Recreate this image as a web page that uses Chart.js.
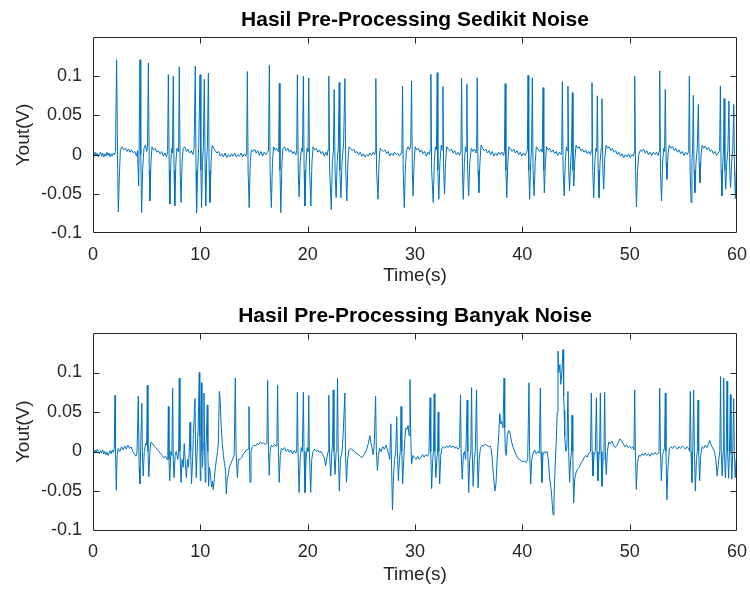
<!DOCTYPE html>
<html>
<head>
<meta charset="utf-8">
<script src="https://cdn.jsdelivr.net/npm/chart.js@4.4.1/dist/chart.umd.min.js"></script>
<style>
  html, body { margin: 0; padding: 0; background: #fff; }
  #wrap { position: relative; width: 750px; height: 597px; }
  canvas { position: absolute; left: 0; }
</style>
</head>
<body>
<div id="wrap">
  <canvas id="topChart" width="750" height="298" style="top:0"></canvas>
  <canvas id="bottomChart" width="750" height="299" style="top:298px"></canvas>
</div>
<script>
// titles and axis text
const titles = ['Hasil Pre-Processing Sedikit Noise', 'Hasil Pre-Processing Banyak Noise'];
const xLabel = 'Time(s)';
const yLabel = 'Yout(V)';
const xTicks = [0, 10, 20, 30, 40, 50, 60];
const yTicks = [-0.1, -0.05, 0, 0.05, 0.1];

// [time (s), Yout (V)] (little noise)
const sedikitNoise = [
  [0,0.002],[0.1,-0.002],[0.2,0.003],[0.3,-0.001],[0.4,0.002],[0.5,-0.003],[0.6,0.001],[0.7,0.003],[0.8,-0.002],[0.9,0.002],
  [1.0,-0.003],[1.1,0.001],[1.2,-0.002],[1.3,0.003],[1.4,-0.001],[1.5,0.002],[1.6,-0.003],[1.7,0.001],[1.8,-0.002],[1.9,0.002],[2.0,0.000],[2.1,0.004],
  [2.2,0.121],[2.3,-0.02],[2.36,-0.073],[2.45,-0.03],[2.55,0.006],[2.7,0.01],[2.85,0.006],[3.0,0.008],[3.15,0.004],[3.3,0.007],[3.45,0.003],[3.6,0.006],[3.75,0.002],[3.9,0.004],[4.05,-0.002],[4.15,0.005],
  [4.25,-0.04],[4.3,0.01],[4.38,0.121],[4.45,0.0],[4.53,-0.074],[4.62,-0.02],[4.75,0.008],[4.88,0.012],[5.0,0.004],[5.08,0.01],
  [5.16,0.117],[5.24,-0.02],[5.3,-0.059],[5.4,-0.01],[5.5,0.01],[5.65,0.006],[5.8,0.008],[5.95,0.003],[6.1,0.005],[6.25,0.001],[6.4,0.004],[6.55,-0.002],[6.7,0.002],[6.85,-0.003],[6.95,0.004],
  [7.02,0.102],[7.1,-0.02],[7.16,-0.063],[7.25,-0.01],[7.33,0.008],[7.4,0.002],
  [7.48,0.1],[7.55,-0.02],[7.62,-0.0655],[7.72,-0.01],[7.82,0.008],[7.92,0.004],[7.98,0.012],
  [8.04,0.112],[8.12,-0.02],[8.2,-0.061],[8.3,-0.01],[8.4,0.008],[8.55,0.01],[8.7,0.004],[8.85,0.007],[9.0,0.002],[9.15,0.005],[9.3,0.0],[9.42,0.008],
  [9.53,0.113],[9.6,-0.02],[9.65,-0.074],[9.75,-0.02],[9.85,0.01],
  [9.97,0.102],[10.05,-0.02],[10.12,-0.0676],[10.2,-0.01],[10.28,0.01],
  [10.37,0.096],[10.45,-0.02],[10.5,-0.0655],[10.58,-0.01],[10.66,0.01],
  [10.75,0.104],[10.82,-0.02],[10.9,-0.061],[11.0,-0.01],[11.1,0.012],[11.25,0.008],[11.4,0.005],[11.55,0.002],[11.7,0.004],[11.85,-0.002],[12.0,0.001],[12.15,-0.003],[12.3,0.002],[12.45,-0.004],[12.6,0.000],[12.75,-0.003],[12.9,0.001],[13.05,-0.002],[13.2,0.002],[13.35,-0.003],[13.5,0.000],[13.65,-0.002],[13.8,0.002],[13.95,-0.003],[14.1,0.001],[14.25,-0.002],[14.32,0.003],
  [14.38,0.106],[14.45,-0.02],[14.55,-0.0676],[14.65,-0.01],[14.75,0.006],[14.9,0.004],[15.05,0.007],[15.2,0.002],[15.35,0.005],[15.5,-0.001],[15.65,0.004],[15.8,-0.002],[15.95,0.003],[16.1,0.0],[16.25,0.003],[16.35,0.006],
  [16.43,0.114],[16.5,-0.02],[16.62,-0.0676],[16.72,-0.01],[16.82,0.01],[16.95,0.006],[17.1,0.008],[17.25,0.004],[17.3,0.01],
  [17.36,0.091],[17.42,-0.02],[17.5,-0.074],[17.6,-0.01],[17.7,0.008],[17.85,0.01],[18.0,0.005],[18.15,0.008],[18.3,0.003],[18.45,0.006],[18.6,0.001],[18.75,0.004],[18.9,0.0],[18.98,0.005],
  [19.04,0.102],[19.12,-0.02],[19.2,-0.054],[19.3,-0.01],[19.42,0.008],[19.52,0.004],
  [19.6,0.1],[19.67,-0.02],[19.75,-0.0655],[19.85,-0.01],[19.95,0.008],[20.03,0.004],
  [20.1,0.098],[20.18,-0.02],[20.3,-0.0655],[20.4,-0.01],[20.5,0.01],[20.65,0.006],[20.8,0.008],[20.95,0.003],[21.1,0.006],[21.25,0.001],[21.4,0.004],[21.55,-0.002],[21.7,0.003],[21.82,-0.001],[21.9,0.006],
  [21.97,0.1],[22.05,-0.02],[22.2,-0.07],[22.3,-0.01],[22.4,0.006],
  [22.47,0.083],[22.55,-0.02],[22.65,-0.055],[22.75,-0.01],[22.85,0.008],
  [22.94,0.092],[23.0,-0.02],[23.1,-0.055],[23.2,-0.01],[23.35,0.015],
  [23.47,0.097],[23.55,-0.02],[23.65,-0.059],[23.75,-0.01],[23.85,0.01],[24.0,0.008],[24.15,0.005],[24.3,0.007],[24.45,0.002],[24.6,0.004],[24.75,0.0],[24.9,0.003],[25.05,-0.002],[25.2,0.001],[25.35,-0.003],[25.5,0.0],[25.65,-0.002],[25.8,0.002],[25.95,-0.001],[26.1,0.003],[26.25,0.0],[26.3,0.005],
  [26.35,0.097],[26.42,-0.02],[26.55,-0.057],[26.65,-0.01],[26.75,0.008],[26.9,0.006],[27.05,0.004],[27.2,0.006],[27.35,0.001],[27.5,0.004],[27.65,-0.002],[27.8,0.002],[27.95,-0.001],[28.1,0.003],[28.25,0.0],[28.4,0.002],[28.55,-0.002],[28.7,0.002],[28.78,0.006],
  [28.84,0.0875],[28.9,-0.02],[29.0,-0.0676],[29.1,-0.02],[29.2,0.005],[29.35,0.01],[29.5,0.006],[29.6,0.012],
  [29.68,0.094],[29.75,-0.02],[29.82,-0.0527],[29.92,-0.01],[30.02,0.01],[30.15,0.006],[30.3,0.008],[30.45,0.003],[30.6,0.006],[30.75,0.001],[30.9,0.004],[31.05,-0.002],[31.2,0.003],[31.35,0.0],[31.42,0.006],
  [31.48,0.1024],[31.55,-0.02],[31.7,-0.061],[31.8,-0.01],[31.9,0.01],[32.0,0.006],
  [32.07,0.1045],[32.13,-0.02],[32.22,-0.057],[32.32,-0.01],[32.45,0.012],[32.52,0.006],
  [32.6,0.0867],[32.67,-0.02],[32.75,-0.0506],[32.85,-0.01],[32.95,0.01],[33.1,0.007],[33.25,0.005],[33.4,0.007],[33.55,0.002],[33.7,0.005],[33.85,0.0],[34.0,0.003],[34.15,-0.001],[34.28,0.005],
  [34.34,0.097],[34.42,-0.02],[34.5,-0.057],[34.6,-0.01],[34.7,0.01],[34.77,0.004],
  [34.83,0.0897],[34.9,-0.02],[35.0,-0.0527],[35.1,-0.01],[35.25,0.008],[35.4,0.004],[35.55,0.007],[35.68,0.002],[35.74,0.008],
  [35.8,0.098],[35.87,-0.02],[35.95,-0.0485],[36.05,-0.01],[36.15,0.012],[36.3,0.008],[36.45,0.005],[36.6,0.007],[36.75,0.002],[36.9,0.005],[37.05,0.0],[37.2,0.004],[37.35,-0.002],[37.5,0.002],[37.65,-0.001],[37.8,0.003],[37.95,0.0],[38.1,0.003],[38.25,-0.001],[38.33,0.004],
  [38.4,0.0905],[38.47,-0.02],[38.55,-0.055],[38.65,-0.01],[38.75,0.01],[38.9,0.007],[39.05,0.004],[39.2,0.007],[39.35,0.002],[39.5,0.005],[39.65,0.0],[39.8,0.003],[39.95,-0.002],[40.1,0.002],[40.25,-0.001],[40.4,0.003],[40.47,0.006],
  [40.53,0.101],[40.6,-0.02],[40.68,-0.057],[40.78,-0.01],[40.86,0.008],
  [40.93,0.098],[41.0,-0.02],[41.1,-0.0527],[41.2,-0.01],[41.3,0.01],[41.45,0.007],[41.6,0.004],[41.75,0.007],[41.86,0.003],
  [41.93,0.0854],[42.0,-0.02],[42.05,-0.049],[42.15,-0.01],[42.25,0.01],[42.4,0.006],[42.55,0.008],[42.7,0.003],[42.85,0.006],[43.0,0.001],[43.15,0.004],[43.3,-0.001],[43.45,0.003],[43.6,0.0],[43.67,0.005],
  [43.73,0.093],[43.8,-0.02],[43.9,-0.0527],[44.0,-0.01],[44.1,0.01],[44.18,0.005],
  [44.25,0.0875],[44.32,-0.02],[44.4,-0.046],[44.5,-0.01],[44.58,0.008],
  [44.66,0.079],[44.72,-0.02],[44.8,-0.04],[44.9,-0.005],[45.0,0.012],[45.15,0.008],[45.3,0.01],[45.45,0.005],[45.6,0.007],[45.75,0.003],[45.9,0.006],[46.05,0.001],[46.2,0.004],[46.35,0.0],[46.43,0.005],
  [46.49,0.092],[46.56,-0.02],[46.65,-0.055],[46.75,-0.01],[46.85,0.008],[46.93,0.004],
  [46.99,0.075],[47.06,-0.02],[47.14,-0.055],[47.24,-0.01],[47.35,0.008],
  [47.42,0.0714],[47.5,-0.02],[47.58,-0.044],[47.68,-0.005],[47.8,0.012],[47.95,0.008],[48.1,0.01],[48.25,0.005],[48.4,0.008],[48.55,0.003],[48.7,0.005],[48.85,0.0],[49.0,0.003],[49.15,-0.002],[49.3,0.001],[49.45,-0.004],[49.6,0.0],[49.75,-0.003],[49.9,0.001],[50.05,-0.004],[50.2,0.0],[50.35,-0.002],[50.42,0.003],
  [50.47,0.1],[50.55,-0.02],[50.63,-0.0667],[50.73,-0.02],[50.85,0.0],[51.0,0.006],[51.15,0.004],[51.3,0.007],[51.45,0.002],[51.6,0.005],[51.75,0.0],[51.9,0.003],[52.05,-0.001],[52.2,0.003],[52.35,0.0],[52.5,0.003],[52.65,-0.001],[52.74,0.004],
  [52.8,0.107],[52.87,-0.02],[52.97,-0.059],[53.07,-0.01],[53.17,0.008],[53.25,0.004],
  [53.32,0.083],[53.4,-0.01],[53.47,-0.0315],[53.57,0.0],[53.7,0.012],[53.85,0.008],[54.0,0.01],[54.15,0.005],[54.3,0.008],[54.45,0.003],[54.6,0.006],[54.75,0.001],[54.9,0.004],[55.05,-0.001],[55.2,0.003],[55.35,0.0],[55.5,0.004],
  [55.56,0.1],[55.63,-0.02],[55.72,-0.061],[55.8,-0.01],[55.87,0.008],
  [55.93,0.0757],[56.0,-0.02],[56.08,-0.0485],[56.18,-0.01],[56.3,0.008],
  [56.4,0.064],[56.47,-0.01],[56.55,-0.0357],[56.65,0.0],[56.75,0.012],[56.9,0.008],[57.05,0.011],[57.2,0.006],[57.35,0.009],[57.5,0.004],[57.65,0.006],[57.8,0.001],[57.95,0.004],[58.1,-0.001],[58.25,0.002],[58.38,0.005],
  [58.45,0.0875],[58.52,-0.02],[58.6,-0.0527],[58.68,-0.01],[58.74,0.006],
  [58.8,0.0714],[58.87,-0.02],[58.95,-0.044],[59.05,-0.01],[59.15,0.006],
  [59.25,0.0684],[59.32,-0.02],[59.4,-0.042],[59.5,-0.01],[59.6,0.006],
  [59.7,0.064],[59.77,-0.02],[59.85,-0.056],[59.93,-0.02],[60,-0.005]
];

// [time (s), Yout (V)] (much noise)
const banyakNoise = [
  [0,0.001],[0.1,-0.002],[0.2,0.002],[0.3,-0.001],[0.4,0.003],[0.5,0.0],[0.6,-0.003],[0.7,0.001],[0.8,-0.002],[0.9,0.002],
  [1.0,-0.003],[1.1,0.0],[1.2,-0.004],[1.3,-0.001],[1.4,-0.005],[1.5,-0.002],[1.6,0.001],[1.7,-0.003],[1.8,0.002],[1.9,-0.001],[1.98,0.004],
  [2.05,0.071],[2.1,0.0],[2.17,-0.049],[2.25,-0.005],[2.35,0.004],[2.5,0.0],[2.65,0.006],[2.8,0.002],[2.95,0.007],[3.1,0.003],[3.25,0.008],[3.4,0.004],[3.55,0.006],[3.7,0.0],[3.85,-0.003],[4.0,-0.006],[4.1,-0.002],
  [4.22,0.07],[4.3,-0.02],[4.37,-0.041],[4.45,0.01],[4.55,0.061],[4.6,0.0],[4.68,-0.031],[4.78,0.0],[4.9,0.01],[5.0,0.008],
  [5.06,0.084],[5.12,0.0],[5.2,-0.032],[5.3,0.0],[5.4,0.012],[5.55,0.01],[5.7,0.007],[5.85,0.005],[6.0,0.002],[6.15,0.0],[6.3,-0.003],[6.45,-0.005],[6.6,-0.008],[6.75,-0.006],[6.9,-0.01],[6.97,-0.005],
  [7.02,0.057],[7.08,-0.01],[7.15,-0.037],[7.25,0.0],[7.35,-0.005],
  [7.42,0.08],[7.48,-0.01],[7.55,-0.033],[7.65,-0.005],[7.75,0.0],[7.9,-0.01],[7.98,0.0],
  [8.04,0.093],[8.1,0.0],[8.2,-0.039],[8.3,-0.01],[8.4,-0.02],[8.5,0.01],[8.6,-0.015],[8.7,-0.033],[8.8,-0.01],[8.9,-0.02],[8.97,0.0],
  [9.04,0.037],[9.1,0.0],[9.18,-0.041],[9.28,-0.01],[9.35,0.02],
  [9.5,0.067],[9.56,0.0],[9.62,-0.033],[9.7,0.0],[9.8,0.03],
  [9.9,0.1],[9.95,0.02],[10.0,-0.037],[10.05,0.01],[10.1,0.087],[10.15,0.0],[10.2,-0.02],[10.28,0.01],
  [10.34,0.074],[10.4,0.0],[10.46,-0.039],[10.52,0.0],
  [10.65,0.059],[10.7,0.0],[10.77,-0.044],[10.85,-0.02],[10.95,-0.03],[11.05,-0.045],[11.15,-0.038],[11.2,-0.048],[11.3,-0.035],[11.4,-0.02],[11.5,-0.01],[11.6,0.0],[11.68,0.01],
  [11.77,0.076],[11.85,0.065],[11.95,0.03],[12.05,0.01],[12.15,-0.005],[12.25,-0.015],[12.35,-0.025],[12.42,-0.054],[12.5,-0.035],[12.6,-0.03],[12.7,-0.02],[12.85,-0.015],[13.0,-0.01],[13.15,-0.005],
  [13.26,0.093],[13.33,0.0],[13.45,-0.033],[13.55,-0.01],[13.7,-0.01],[13.85,-0.008],[14.0,-0.003],[14.15,-0.001],[14.3,0.002],[14.45,0.003],
  [14.53,0.057],[14.58,-0.01],[14.63,-0.039],[14.72,0.0],[14.85,0.006],[15.0,0.008],[15.15,0.007],[15.3,0.01],[15.45,0.009],[15.6,0.012],[15.75,0.01],[15.9,0.011],[16.05,0.009],[16.2,0.01],
  [16.27,0.09],[16.35,0.0],[16.42,-0.03],[16.5,0.0],[16.6,0.008],[16.75,0.006],[16.9,0.009],[17.05,0.007],[17.13,0.01],
  [17.2,0.084],[17.27,0.0],[17.35,-0.039],[17.45,-0.005],[17.55,0.004],[17.7,0.002],[17.85,0.005],[18.0,0.0],[18.15,0.003],[18.3,-0.001],[18.45,0.002],[18.6,-0.003],[18.75,0.001],[18.9,-0.002],[18.98,0.002],
  [19.04,0.075],[19.1,0.0],[19.2,-0.052],[19.3,-0.01],[19.4,0.005],[19.5,0.0],
  [19.6,0.075],[19.66,0.0],[19.75,-0.052],[19.85,-0.01],[19.95,0.005],[20.03,0.0],
  [20.1,0.071],[20.16,0.0],[20.28,-0.052],[20.38,-0.01],[20.5,0.0],[20.65,0.003],[20.8,0.0],[20.95,0.002],[21.1,-0.001],[21.25,0.0],[21.4,-0.004],[21.55,-0.008],[21.67,-0.018],[21.8,-0.008],[21.9,0.0],
  [21.97,0.071],[22.03,0.0],[22.15,-0.031],[22.25,0.0],[22.32,0.01],
  [22.38,0.078],[22.45,0.0],[22.55,-0.029],[22.65,0.0],[22.72,0.02],
  [22.78,0.093],[22.85,0.0],[22.95,-0.05],[23.05,-0.01],[23.2,0.0],[23.3,0.02],
  [23.47,0.074],[23.52,0.0],[23.62,-0.039],[23.72,-0.01],[23.85,0.002],[24.0,0.004],[24.15,0.002],[24.3,0.001],[24.45,-0.001],[24.6,-0.003],[24.75,-0.004],[24.9,-0.006],[25.05,-0.008],[25.2,-0.005],[25.35,-0.002],[25.5,0.003],[25.65,0.01],[25.8,0.02],[25.9,0.01],[26.0,0.005],[26.1,-0.004],[26.2,0.008],
  [26.33,0.07],[26.4,0.0],[26.5,-0.024],[26.6,-0.005],[26.7,0.004],[26.85,0.0],[27.0,0.006],[27.15,0.003],[27.3,0.008],[27.45,0.001],[27.55,-0.004],[27.65,-0.01],
  [27.75,0.035],[27.82,-0.02],[27.9,-0.074],[28.0,-0.03],[28.1,-0.01],[28.2,0.0],
  [28.3,0.044],[28.36,0.0],[28.45,-0.037],[28.55,-0.01],[28.63,0.0],
  [28.7,0.057],[28.77,0.0],[28.85,-0.041],[28.95,-0.01],[29.05,0.015],[29.15,0.03],[29.25,0.028],[29.35,0.033],[29.45,0.02],
  [29.53,0.091],[29.6,0.02],[29.68,-0.016],[29.8,-0.005],[29.95,-0.008],[30.1,-0.01],[30.25,-0.006],[30.4,-0.01],[30.55,-0.008],[30.7,-0.004],[30.85,-0.007],[31.0,-0.004],[31.15,-0.006],[31.3,-0.002],
  [31.41,0.068],[31.47,0.0],[31.55,-0.047],[31.65,-0.01],[31.72,0.0],
  [31.79,0.073],[31.85,0.0],[31.95,-0.033],[32.05,-0.005],[32.1,0.0],
  [32.16,0.05],[32.22,0.0],[32.3,-0.041],[32.4,-0.005],[32.5,0.004],[32.65,0.006],[32.8,0.004],[32.95,0.007],[33.1,0.005],[33.25,0.008],[33.4,0.005],[33.55,0.007],[33.7,0.004],[33.85,0.006],[34.0,0.003],[34.15,0.005],
  [34.24,0.072],[34.3,0.0],[34.4,-0.035],[34.5,-0.005],[34.6,0.0],[34.72,-0.01],
  [34.86,0.065],[34.92,0.0],[35.0,-0.052],[35.1,-0.01],[35.2,0.0],
  [35.27,0.081],[35.33,0.0],[35.42,-0.044],[35.52,-0.01],[35.62,0.0],
  [35.73,0.078],[35.8,0.0],[35.88,-0.046],[35.98,-0.01],[36.1,0.005],[36.25,0.008],[36.4,0.007],[36.55,0.009],[36.7,0.008],[36.85,0.006],[37.0,0.007],[37.1,0.003],[37.2,-0.01],[37.3,-0.03],[37.45,-0.05],[37.55,-0.04],[37.65,-0.01],[37.8,0.02],[37.9,0.048],[38.0,0.035],[38.1,0.038],[38.2,0.03],
  [38.3,0.093],[38.36,0.03],[38.42,0.0],[38.5,-0.005],[38.6,0.02],[38.7,0.026],[38.8,0.026],[38.9,0.02],[39.0,0.012],[39.15,0.005],[39.3,0.0],[39.45,-0.005],[39.6,-0.009],[39.75,-0.01],[39.9,-0.012],[40.05,-0.013],[40.2,-0.012],[40.35,-0.014],[40.5,-0.01],
  [40.62,0.087],[40.68,0.0],[40.78,-0.041],[40.88,-0.01],[41.0,-0.002],[41.15,0.002],[41.3,-0.003],[41.45,0.0],[41.58,-0.002],
  [41.68,0.08],[41.74,0.0],[41.82,-0.039],[41.92,-0.005],[42.05,0.0],[42.2,-0.002],[42.3,0.0],[42.42,-0.01],[42.55,-0.035],[42.7,-0.05],[42.86,-0.08],[42.95,-0.06],[43.05,-0.02],[43.15,0.01],[43.25,0.05],
  [43.32,0.127],[43.4,0.1],[43.5,0.11],[43.58,0.085],[43.68,0.1],
  [43.79,0.129],[43.85,0.07],[43.9,0.052],[43.95,0.02],[44.05,0.0],[44.15,0.005],
  [44.25,0.076],[44.32,0.0],[44.4,-0.039],[44.5,-0.01],[44.58,0.0],
  [44.63,0.046],[44.7,0.0],[44.78,-0.065],[44.88,-0.035],[45.0,-0.027],[45.15,-0.022],[45.3,-0.02],[45.45,-0.015],[45.6,-0.012],[45.75,-0.008],[45.9,-0.005],[46.05,-0.007],[46.2,-0.002],[46.35,0.0],
  [46.43,0.074],[46.5,0.0],[46.58,-0.031],[46.68,-0.005],[46.8,0.0],
  [46.9,0.068],[46.96,0.0],[47.04,-0.037],[47.14,-0.005],[47.2,0.0],
  [47.27,0.074],[47.33,0.0],[47.42,-0.044],[47.52,-0.01],[47.6,0.0],
  [47.67,0.075],[47.73,0.0],[47.82,-0.029],[47.92,0.0],[48.05,0.012],[48.2,0.01],[48.35,0.013],[48.5,0.008],[48.65,0.005],[48.8,0.007],[48.95,0.012],[49.1,0.016],[49.25,0.013],[49.4,0.01],[49.55,0.006],[49.7,0.008],[49.85,0.005],[50.0,0.007],[50.15,0.004],[50.3,0.006],[50.4,0.002],
  [50.47,0.078],[50.53,0.0],[50.62,-0.048],[50.72,-0.015],[50.85,-0.005],[51.0,-0.006],[51.15,-0.003],[51.3,-0.005],[51.45,-0.002],[51.6,-0.005],[51.75,-0.003],[51.9,-0.006],[52.05,-0.002],[52.2,-0.004],[52.35,-0.001],[52.5,-0.004],[52.65,-0.002],[52.73,0.0],
  [52.8,0.08],[52.87,0.0],[52.95,-0.037],[53.05,-0.005],[53.15,0.0],[53.25,0.005],
  [53.32,0.074],[53.38,0.0],[53.47,-0.061],[53.57,-0.02],[53.7,0.004],[53.85,0.006],[54.0,0.004],[54.15,0.007],[54.3,0.005],[54.45,0.003],[54.6,0.006],[54.75,0.004],[54.9,0.007],[55.05,0.005],[55.2,0.003],[55.35,0.006],[55.5,0.004],[55.58,0.0],
  [55.65,0.076],[55.72,0.0],[55.8,-0.039],[55.88,0.0],
  [55.96,0.078],[56.03,0.0],[56.12,-0.05],[56.22,-0.01],[56.3,0.0],
  [56.37,0.065],[56.43,0.0],[56.52,-0.037],[56.62,-0.005],[56.75,0.006],[56.9,0.004],[57.05,0.008],[57.2,0.005],[57.35,0.01],[57.45,0.014],[57.6,0.008],[57.75,0.004],[57.9,0.0],[58.02,-0.01],[58.15,-0.031],[58.3,-0.01],[58.4,0.0],
  [58.47,0.095],[58.53,0.0],[58.62,-0.031],[58.7,0.0],
  [58.76,0.093],[58.82,0.0],[58.92,-0.033],[59.0,0.0],
  [59.07,0.089],[59.13,0.0],[59.22,-0.034],[59.3,0.0],
  [59.38,0.072],[59.44,0.0],[59.52,-0.035],[59.6,0.0],
  [59.69,0.067],[59.75,0.0],[59.83,-0.033],[59.92,-0.01],[60,-0.008]
];

const axisColor = '#262626';
const lineColor = '#0072BD';
Chart.defaults.font.family = '"Liberation Sans", Arial, Helvetica, sans-serif';

// box round the axes with inward tick marks on all four sides, like MATLAB
const matlabBox = {
  id: 'matlabBox',
  afterDraw(chart) {
    const { ctx, chartArea: a, scales: { x, y } } = chart;
    const L = Math.round(a.left) + 0.5, R = Math.round(a.right) - 0.5;
    const T = Math.round(a.top) + 0.5, B = Math.round(a.bottom) - 0.5;
    const len = 6;
    ctx.save();
    ctx.strokeStyle = axisColor;
    ctx.lineWidth = 1;
    ctx.beginPath();
    ctx.rect(L, T, R - L, B - T);
    xTicks.forEach(v => {
      const px = Math.round(x.getPixelForValue(v)) + 0.5;
      if (px <= L + 1 || px >= R - 1) return;
      ctx.moveTo(px, B); ctx.lineTo(px, B - len);
      ctx.moveTo(px, T); ctx.lineTo(px, T + len);
    });
    yTicks.forEach(v => {
      const py = Math.round(y.getPixelForValue(v)) + 0.5;
      if (py <= T + 1 || py >= B - 1) return;
      ctx.moveTo(L, py); ctx.lineTo(L + len, py);
      ctx.moveTo(R, py); ctx.lineTo(R - len, py);
    });
    ctx.stroke();
    ctx.restore();
  }
};

function makeChart(id, title, points, canvasH, plotBottom, titlePad) {
  const ctx = document.getElementById(id).getContext('2d');
  return new Chart(ctx, {
    type: 'line',
    data: {
      datasets: [{
        data: points.map(p => ({ x: p[0], y: p[1] })),
        borderColor: lineColor,
        borderWidth: 1,
        pointRadius: 0,
        tension: 0,
        fill: false
      }]
    },
    options: {
      responsive: false,
      animation: false,
      events: [],
      layout: { padding: { left: 0, right: 13, top: 0, bottom: 0 } },
      plugins: {
        legend: { display: false },
        tooltip: { enabled: false },
        title: {
          display: true,
          text: title,
          color: '#000',
          fullSize: false,
          font: { size: 21, weight: 'bold' },
          padding: titlePad
        }
      },
      scales: {
        x: {
          type: 'linear',
          min: 0, max: 60,
          grid: { display: false, drawTicks: false },
          border: { display: false },
          afterBuildTicks: s => { s.ticks = xTicks.map(v => ({ value: v })); },
          afterFit: s => {
            s.height = canvasH - plotBottom;
            // let the end labels hang past the plot like MATLAB does
            s.paddingLeft = 0;
            s.paddingRight = 0;
          },
          ticks: { color: axisColor, font: { size: 18 }, padding: 11, maxRotation: 0 },
          title: { display: true, text: xLabel, color: axisColor, font: { size: 19 }, padding: { top: 0, bottom: 11 } }
        },
        y: {
          type: 'linear',
          min: -0.1, max: 0.15,
          grid: { display: false, drawTicks: false },
          border: { display: false },
          afterBuildTicks: s => { s.ticks = yTicks.map(v => ({ value: v })); },
          afterFit: s => { s.width = 93; },
          ticks: { color: axisColor, font: { size: 18 }, padding: 11, callback: v => String(Math.round(v * 100) / 100) },
          title: { display: true, text: yLabel, color: axisColor, font: { size: 19 }, padding: { top: 12.6, bottom: 0 } }
        }
      }
    },
    plugins: [matlabBox]
  });
}

makeChart('topChart', titles[0], sedikitNoise, 298, 233, { top: 7.8, bottom: 4 });
makeChart('bottomChart', titles[1], banyakNoise, 299, 232.5, { top: 6, bottom: 3.8 });
</script>
</body>
</html>
